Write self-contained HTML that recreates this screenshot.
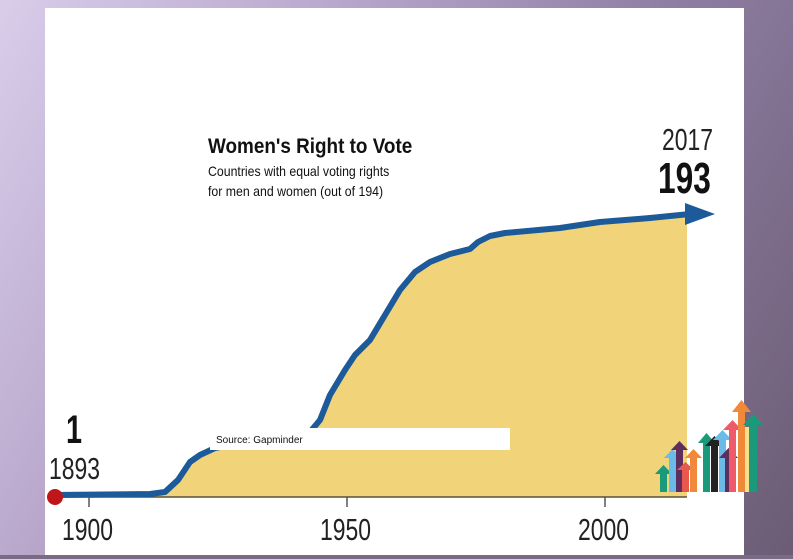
<!DOCTYPE html>
<html><head><style>
html,body{margin:0;padding:0;}
body{width:793px;height:559px;overflow:hidden;background:linear-gradient(120deg,#d9cdea 0%,#b9a8cc 30%,#8f7ea3 60%,#6b5c74 100%);}
svg{position:absolute;left:0;top:0;}
text{font-family:"Liberation Sans",sans-serif;}
</style></head><body>
<svg width="793" height="559" viewBox="0 0 793 559">
<rect x="45" y="8" width="699" height="547" fill="#ffffff"/>
<rect x="0" y="555" width="793" height="4" fill="#7a6a86"/>
<path d="M54,497 L54,495 L150,494 L165,492 L178,480 L190,462 L200,455 L215,448 L240,443 L280,438 L310,432 L320,420 L330,395 L345,370 L355,355 L370,340 L385,315 L400,290 L415,272 L430,262 L450,254 L470,249 L478,242 L490,236 L505,233 L560,228 L600,222 L650,218 L687,216 L687,497 Z" fill="#f1d479"/>
<line x1="54" y1="497" x2="687" y2="497" fill="none" stroke="#5a5040" stroke-width="1.5"/>
<path d="M54,495 L150,494 L165,492 L178,480 L190,462 L200,455 L215,448 L240,443 L280,438 L310,432 L320,420 L330,395 L345,370 L355,355 L370,340 L385,315 L400,290 L415,272 L430,262 L450,254 L470,249 L478,242 L490,236 L505,233 L560,228 L600,222 L650,218 L690,214" fill="none" stroke="#1c5a9a" stroke-width="6" stroke-linejoin="round"/>
<polygon points="685,203 715,214 685,225" fill="#1c5a9a"/>
<circle cx="55" cy="497" r="8" fill="#c0161a"/>
<line x1="89" y1="497" x2="89" y2="507" stroke="#555" stroke-width="1.5"/>
<line x1="347" y1="497" x2="347" y2="507" stroke="#555" stroke-width="1.5"/>
<line x1="605" y1="497" x2="605" y2="507" stroke="#555" stroke-width="1.5"/>
<g fill="#222" font-size="31">
<text transform="translate(62,540) scale(0.74,1)">1900</text>
<text transform="translate(320,540) scale(0.74,1)">1950</text>
<text transform="translate(578,540) scale(0.74,1)">2000</text>
<text transform="translate(49,479) scale(0.74,1)">1893</text>
<text transform="translate(662,150) scale(0.74,1)">2017</text>
</g>
<text transform="translate(66,443) scale(0.72,1)" font-size="40" font-weight="bold" fill="#111">1</text>
<text transform="translate(658,193) scale(0.72,1)" font-size="44" font-weight="bold" fill="#111">193</text>
<text transform="translate(208,153) scale(0.9,1)" font-size="21" font-weight="bold" fill="#111">Women's Right to Vote</text>
<text transform="translate(208,176) scale(0.88,1)" font-size="14" fill="#111">Countries with equal voting rights</text>
<text transform="translate(208,196) scale(0.88,1)" font-size="14" fill="#111">for men and women (out of 194)</text>
<rect x="210" y="428" width="300" height="22" fill="#fff"/>
<text x="216" y="443" font-size="10" fill="#111">Source: Gapminder</text>
<g>
<rect x="660" y="472" width="7" height="20" fill="#1a9a7a"/><polygon points="655,474 663.5,465 672,474" fill="#1a9a7a"/>
<rect x="669" y="455" width="7" height="37" fill="#6bbbe8"/><polygon points="664,458 672.5,449 681,458" fill="#6bbbe8"/>
<rect x="676" y="448" width="7" height="44" fill="#5e2f5e"/><polygon points="671,450 679.5,441 688,450" fill="#5e2f5e"/>
<rect x="682" y="468" width="7" height="24" fill="#e8584e"/><polygon points="677,470 685.5,462 694,470" fill="#e8584e"/>
<rect x="690" y="455" width="7" height="37" fill="#f08a3a"/><polygon points="685,458 693.5,449 702,458" fill="#f08a3a"/>
<rect x="703" y="440" width="7" height="52" fill="#1a9a7a"/><polygon points="698,443 706.5,433 715,443" fill="#1a9a7a"/>
<rect x="711" y="443" width="7" height="49" fill="#222"/><polygon points="705,446 714.5,436 724,446" fill="#222"/>
<rect x="719" y="437" width="7" height="55" fill="#6bbbe8"/><polygon points="713,440 722.5,430 732,440" fill="#6bbbe8"/>
<rect x="725" y="455" width="7" height="37" fill="#5e2f5e"/><polygon points="719,458 728.5,448 738,458" fill="#5e2f5e"/>
<rect x="729" y="428" width="7" height="64" fill="#ee5a6a"/><polygon points="723,430 732.5,420 742,430" fill="#ee5a6a"/>
<rect x="738" y="410" width="7" height="82" fill="#f08a3a"/><polygon points="732,412 741.5,400 751,412" fill="#f08a3a"/>
<rect x="745" y="427" width="4" height="65" fill="#f8e08a"/>
<rect x="749" y="423" width="8" height="69" fill="#1a9a7a"/><polygon points="743,425 753,414 763,425" fill="#1a9a7a"/>
</g>
</svg>
</body></html>
